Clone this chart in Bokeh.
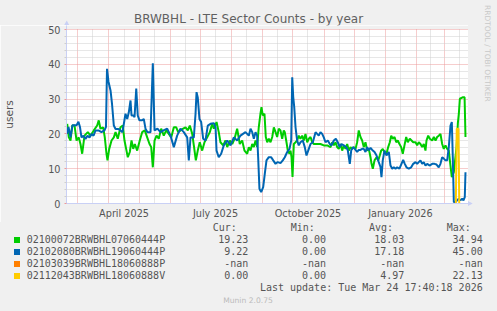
import math
import pandas as pd
from bokeh.plotting import figure
from bokeh.layouts import column, row
from bokeh.models import (Range1d, FixedTicker, DatetimeTickFormatter, BoxAnnotation, Div)
from bokeh.embed import file_html
from bokeh.resources import INLINE

# ---------------- data ----------------
START = pd.Timestamp("2025-02-17 17:40:18")
END = pd.Timestamp("2026-03-24 17:40:18")

# day offsets from START and user counts
green_day = [0.7, 2.3, 4.0, 5.7, 8.0, 10.0, 12.2, 13.9, 15.6, 17.9,
             21.2, 23.9, 27.2, 30.5, 32.1, 33.8, 36.5, 38.1, 39.8, 40.8,
             42.5, 44.8, 47.1, 48.8, 51.0, 53.7, 56.0, 57.7, 59.7, 61.0,
             63.0, 64.7, 66.4, 68.0, 70.3, 72.9, 75.3, 77.9, 80.3, 82.6,
             84.3, 85.9, 87.6, 89.6, 91.8, 94.2, 96.8, 99.2, 101.8, 104.2,
             106.8, 109.2, 111.1, 113.4, 116.1, 118.4, 120.7, 122.7, 125.1, 126.7,
             128.7, 130.6, 132.6, 135.0, 137.3, 140.0, 142.6, 145.0, 146.6, 149.3,
             151.5, 153.2, 155.9, 158.2, 159.9, 162.5, 164.9, 167.2, 169.8, 172.4,
             174.8, 177.1, 179.8, 181.4, 183.1, 184.8, 186.4, 188.1, 189.7, 191.3,
             193.0, 194.0, 195.3, 197.0, 198.3, 199.7, 201.3, 203.0, 204.7, 206.3,
             208.0, 209.6, 211.2, 212.9, 214.6, 216.2, 217.2, 218.9, 220.2, 221.9,
             222.9, 223.9, 224.9, 226.2, 227.9, 229.5, 231.1, 232.8, 234.5, 236.1,
             237.8, 239.5, 241.1, 242.8, 244.5, 246.1, 249.4, 252.7, 256.0, 259.4,
             262.7, 264.4, 266.0, 267.7, 269.3, 270.9, 272.6, 274.3, 275.9, 277.6,
             279.3, 280.9, 282.6, 284.3, 285.9, 287.6, 289.2, 290.8, 292.5, 294.2,
             295.8, 297.5, 299.2, 300.8, 302.5, 303.5, 304.8, 306.5, 308.5, 310.2,
             311.7, 313.1, 314.7, 316.4, 318.4, 320.1, 321.7, 323.1, 324.7, 326.4,
             328.1, 329.6, 331.3, 333.0, 334.6, 336.3, 338.0, 339.6, 341.6, 343.3,
             345.0, 347.3, 348.9, 350.5, 352.2, 353.9, 355.5, 357.2, 358.2, 359.9,
             361.5, 363.9, 365.5, 367.2, 368.8, 370.4, 372.1, 373.8, 375.4, 377.1,
             378.8, 380.4, 381.8, 383.4, 385.4, 388.1, 389.4, 390.4, 391.4, 394.1,
             396.1, 397.0]
green_users = [22.9, 19, 18.1, 22.4, 22.4, 18.1, 19, 17.1, 14.3, 19.5,
               20.5, 19.5, 21, 22.4, 23.9, 21.5, 21.9, 19, 14.3, 12.4,
               15.7, 18.1, 19, 20.5, 18.6, 21.9, 22.4, 18.1, 15.2, 13.3,
               14.8, 18.1, 15.7, 17.1, 15.2, 18.1, 20.5, 21, 19, 17.1,
               16.2, 10.4, 18.1, 19.5, 18.6, 21.5, 19.5, 21, 20, 19,
               21.9, 21.9, 20.5, 21, 21.5, 21.9, 21, 22.4, 20, 16.7,
               12.4, 15.2, 17.6, 15.2, 17.6, 19, 20.5, 22.9, 21.5, 23.4,
               20.5, 17.6, 16.7, 18.1, 16.2, 18.1, 17.1, 18.6, 21.5, 17.1,
               18.1, 15.2, 14.3, 16.2, 15.2, 17.1, 16.2, 18.1, 16.2, 21.9,
               25.8, 27.7, 25.3, 25.8, 19.1, 17.6, 18.6, 17.6, 19.1, 21.9,
               20.5, 19.1, 21.5, 21, 18.6, 21, 20.5, 17.6, 15.2, 14.3,
               15.2, 13.3, 7.6, 17.1, 17.6, 18.1, 19.5, 18.6, 19.5, 18.1,
               20, 17.6, 18.6, 19.1, 17.6, 17.1, 17.1, 17.1, 16.7, 16.7,
               16.2, 17.6, 16.7, 17.6, 16.2, 15.7, 17.1, 15.2, 16.7, 15.7,
               17.1, 15.2, 16.2, 15.7, 16.2, 15.7, 17.6, 21, 19.1, 18.1,
               16.2, 17.6, 15.2, 15.7, 13.3, 11.4, 10.0, 12.4, 13.3, 12.4,
               13.8, 15.2, 15.7, 14.8, 14.3, 16.2, 17.6, 19.5, 18.6, 19.1,
               17.6, 18.1, 17.1, 16.2, 14.3, 16.7, 19.1, 17.6, 18.6, 18.1,
               17.6, 17.6, 16.7, 17.6, 17.1, 16.2, 17.1, 15.2, 18.1, 19.5,
               18.6, 18.1, 19.1, 18.1, 19.1, 19.5, 20, 17.1, 15.7, 16.7,
               15.7, 15.2, 11.5, 7.6, 9, 16.2, 23, 25.8, 30.1, 30.5,
               30.5, 19.1]

blue_day = [0.5, 2.0, 4.0, 6.0, 8.0, 10.0, 11.9, 13.4, 14.9, 16.9,
            18.9, 20.9, 22.9, 24.9, 26.9, 28.9, 31.8, 34.8, 37.8, 39.3,
            40.3, 41.8, 43.8, 45.3, 47.1, 48.8, 51.7, 53.7, 55.7, 58.7,
            60.4, 62.0, 63.7, 64.7, 66.7, 67.7, 69.4, 70.9, 72.6, 75.3,
            76.9, 78.6, 80.6, 83.6, 85.9, 87.6, 90.5, 93.5, 96.5, 100.2,
            103.5, 106.8, 110.1, 113.4, 116.7, 120.1, 121.7, 123.4, 126.7, 128.4,
            129.4, 130.6, 132.3, 134.0, 136.0, 138.3, 140.6, 143.3, 146.6, 148.3,
            149.3, 151.5, 153.9, 156.5, 159.9, 163.2, 166.5, 169.8, 173.1, 178.1,
            181.4, 183.1, 184.8, 186.4, 188.1, 189.7, 190.7, 192.0, 193.7, 195.7,
            197.3, 199.0, 201.3, 203.7, 205.7, 208.0, 210.2, 212.9, 215.2, 217.2,
            219.6, 221.9, 223.6, 224.6, 225.6, 226.6, 227.9, 229.5, 231.1, 232.8,
            235.1, 237.1, 238.8, 241.1, 242.8, 245.1, 247.8, 249.4, 251.0, 252.7,
            254.4, 256.0, 257.7, 260.0, 262.0, 263.7, 266.0, 268.0, 269.9, 271.9,
            273.6, 275.9, 278.3, 279.9, 281.9, 283.3, 285.3, 286.9, 289.2, 290.8,
            292.5, 294.2, 295.8, 297.5, 299.2, 300.8, 302.5, 304.2, 306.5, 308.5,
            310.7, 312.4, 313.4, 314.7, 316.4, 318.4, 320.7, 322.4, 324.1, 325.7,
            327.4, 329.0, 331.3, 333.3, 335.0, 336.6, 338.3, 340.6, 343.0, 345.0,
            347.3, 348.9, 350.5, 352.2, 353.9, 355.5, 357.2, 358.9, 361.2, 363.9,
            366.2, 368.2, 370.4, 372.1, 373.8, 375.4, 377.1, 378.8, 380.4, 382.1,
            383.4, 384.4, 385.4, 387.1, 388.7, 390.3, 392.0, 393.7, 395.0, 396.3,
            397.0]
blue_users = [20, 22, 19, 22.5, 22.5, 22.5, 23.5, 22, 19, 19.5,
              18.5, 19.5, 19, 20, 19.5, 21, 21, 20.5, 21, 22,
              38.7, 35, 32.5, 28.6, 22.4, 21.4, 21.4, 21, 20.5, 25.8,
              24.3, 26.2, 29.6, 25.3, 25.3, 24.8, 33, 25.3, 23.9, 23.9,
              24.3, 21.5, 20.5, 20.5, 40.3, 21, 21.5, 20.5, 21, 21.5,
              19.5, 16.2, 19.5, 21.5, 20.5, 19, 12.4, 19, 19, 25.8,
              32, 30.5, 24.3, 23.4, 18.6, 18.1, 22.4, 22.9, 23.1, 21.9,
              15.2, 13.3, 14.3, 16.7, 18.1, 16.7, 19, 18.1, 19.5, 20.5,
              19.5, 21.5, 20.5, 18.6, 20.5, 19.5, 13.3, 4.2, 3.3, 4.7,
              8.5, 12.4, 13.3, 13.3, 12.4, 11.4, 11.9, 11.6, 12.4, 13.3,
              14.8, 15.7, 18.1, 36.3, 30.6, 27.7, 21.9, 18.1, 16.7, 17.6,
              18.1, 16.2, 13.8, 15.7, 17.1, 17.6, 20.5, 20, 19.5, 20.5,
              20, 19, 17.6, 18.1, 17.1, 16.7, 18.1, 18.6, 17.6, 16.2,
              17.1, 16.7, 16.2, 15.3, 11.4, 15.3, 16.2, 15.7, 14.8, 15.4,
              15.4, 15.7, 15.7, 14.8, 16.2, 15.3, 16.0, 15.4, 14.8, 13.8,
              11.9, 10.5, 7.6, 12.4, 15.2, 13.8, 14.8, 10.9, 10.0, 10.4,
              10.0, 10.4, 10.0, 11.4, 12.5, 11.4, 10.4, 10.0, 10.4, 11.4,
              11.9, 11.4, 11.9, 12.4, 11.4, 11.9, 10.9, 11.4, 10.9, 11.4,
              11.4, 11.2, 10.4, 11.4, 13.3, 12.9, 12.4, 12.4, 16.2, 22.4,
              23.4, 13, 0.4, 0.4, 0.9, 1.4, 0.9, 1.4, 0.9, 1.8,
              9.0]

orange_day = []
orange_users = []

yellow_day = [387.4, 388.3, 390.0, 390.8]
yellow_users = [0.0, 21.5, 21.5, 0.0]

series_names = ["02100072BRWBHL07060444P", "02102080BRWBHL19060444P",
                "02103039BRWBHL18060888P", "02112043BRWBHL18060888V"]
series_colors = ["#00CC00", "#0066B3", "#FF8000", "#FFCC00"]
nan = float("nan")
cur_vals = [19.23, 9.22, nan, 0.00]
min_vals = [0.00, 0.00, nan, 0.00]
avg_vals = [18.03, 17.18, nan, 4.97]
max_vals = [34.94, 45.00, nan, 22.13]
stat_headers = ["Cur:", "Min:", "Avg:", "Max:"]

month_starts = ["2025-03-01", "2025-04-01", "2025-05-01", "2025-06-01", "2025-07-01",
                "2025-08-01", "2025-09-01", "2025-10-01", "2025-11-01", "2025-12-01",
                "2026-01-01", "2026-02-01", "2026-03-01"]
month_mids = ["2025-03-16", "2025-04-16", "2025-05-16", "2025-06-16", "2025-07-16",
              "2025-08-16", "2025-09-16", "2025-10-16", "2025-11-16", "2025-12-16",
              "2026-01-16", "2026-02-15", "2026-03-16"]
label_months = ["2025-04-16", "2025-07-16", "2025-10-16", "2026-01-16"]
y_ticks = [0, 10, 20, 30, 40, 50]
y_minor = [v for v in range(0, 51, 2) if v % 10 != 0]

TITLE = "BRWBHL - LTE Sector Counts - by year"
Y_LABEL = "users"
LAST_UPDATE = "Last update: Tue Mar 24 17:40:18 2026"
MUNIN = "Munin 2.0.75"
RRD = "RRDTOOL / TOBI OETIKER"

# ---------------- style / layout (pixels) ----------------
BG = "#F0F0F0"
AX = "#C9D0F5"
MGRID = "#EC9A9A"
GRID = "#CFCFCF"
FONT = "#555555"
SANS = "DejaVu Sans"
MONO = "DejaVu Sans Mono"

TOP_H = 25            # strip above the chart canvas (title)
MAIN_W = 484          # width of the left column
RRD_W = 497 - MAIN_W  # right strip with the vertical credit
P_W, P_H = 468, 197   # chart canvas
FL, FB = 66, 19       # left / bottom borders of the chart canvas
LEG_H = 311 - TOP_H - P_H
SIDE_W = MAIN_W - P_W
FRAME_H = P_H - FB
PX_PER_UNIT = 174 / 50.0          # 50 users over 174 px
Y_TOP = FRAME_H / PX_PER_UNIT     # range end so that 50 sits 4 px below canvas top


def ms(s):
    return pd.Timestamp(s).value / 1e6


def to_dates(days):
    return START + pd.to_timedelta(days, unit="D")


p = figure(width=P_W, height=P_H, x_axis_type="datetime",
           x_range=Range1d(START, END), y_range=Range1d(0, Y_TOP),
           toolbar_location=None, output_backend="svg",
           min_border_left=FL, min_border_right=0,
           min_border_top=0, min_border_bottom=FB)
p.title.visible = False
p.background_fill_color = "white"
p.border_fill_color = BG
p.outline_line_color = None

xa = p.xaxis[0]
xa.ticker = FixedTicker(ticks=[ms(s) for s in label_months], minor_ticks=[])
fmt = "%B %Y"
xa.formatter = DatetimeTickFormatter(milliseconds=fmt, seconds=fmt, minsec=fmt,
                                     minutes=fmt, hourmin=fmt, hours=fmt,
                                     days=fmt, months=fmt, years=fmt)
xa.major_tick_in = 0
xa.major_tick_out = 0
xa.minor_tick_in = 0
xa.minor_tick_out = 0
xa.major_tick_line_color = None
xa.minor_tick_line_color = None
xa.axis_line_color = AX
xa.major_label_standoff = 4
xa.major_label_text_font = SANS
xa.major_label_text_font_size = "9.7px"
xa.major_label_text_color = FONT

ya = p.yaxis[0]
ya.ticker = FixedTicker(ticks=y_ticks, minor_ticks=y_minor)
ya.major_tick_in = 0
ya.major_tick_out = 2
ya.major_tick_line_color = MGRID
ya.minor_tick_in = 0
ya.minor_tick_out = 2
ya.minor_tick_line_color = GRID
ya.axis_line_color = AX
ya.major_label_standoff = 4
ya.major_label_text_font = SANS
ya.major_label_text_font_size = "9.7px"
ya.major_label_text_color = FONT
ya.axis_label = Y_LABEL
ya.axis_label_text_font = SANS
ya.axis_label_text_font_size = "10.5px"
ya.axis_label_text_font_style = "normal"
ya.axis_label_text_color = FONT
ya.axis_label_standoff = 30

xg = p.xgrid[0]
xg.ticker = FixedTicker(ticks=[ms(s) for s in month_starts],
                        minor_ticks=[ms(s) for s in month_mids])
yg = p.ygrid[0]
yg.ticker = FixedTicker(ticks=y_ticks, minor_ticks=y_minor)
for g in (xg, yg):
    g.grid_line_color = MGRID
    g.grid_line_dash = "1 1"
    g.minor_grid_line_color = GRID
    g.minor_grid_line_dash = "1 1"

# the canvas strip above the 50 line belongs to the page background
p.add_layout(BoxAnnotation(left=ms(START), right=ms(END),
                           bottom=50 + 0.6 / PX_PER_UNIT, top=Y_TOP,
                           fill_color=BG, fill_alpha=1.0, line_color=None,
                           level="underlay"))

for days, vals, col in [(green_day, green_users, series_colors[0]),
                        (blue_day, blue_users, series_colors[1]),
                        (orange_day, orange_users, series_colors[2]),
                        (yellow_day, yellow_users, series_colors[3])]:
    p.line(x=to_dates(days), y=vals, line_color=col, line_width=2)


# ---------------- HTML strips (title, arrows, legend, credit) ----------------
def span(text, top, size, font=SANS, color=FONT, lh=12, left=None, right=None,
         center=None, extra=""):
    st = ("position:absolute;top:%.1fpx;white-space:nowrap;font-family:'%s';"
          "font-size:%spx;line-height:%spx;color:%s;%s" % (top, font, size, lh, color, extra))
    if left is not None:
        st += "left:%.1fpx;" % left
    if right is not None:
        st += "right:%.1fpx;text-align:right;" % right
    if center is not None:
        st += "left:%.1fpx;width:300px;text-align:center;" % (center - 150)
    return '<div style="%s">%s</div>' % (st, text)


def box(w, h, inner):
    return ('<div style="position:relative;width:%dpx;height:%dpx;background:%s;'
            'overflow:visible;margin:0;padding:0;">%s</div>' % (w, h, BG, inner))


# title + arrow head of the y axis
top_html = box(MAIN_W, TOP_H,
               span(TITLE, 11.5, 12, color="#606060", lh=14, center=248.5) +
               '<svg style="position:absolute;left:0;top:0" width="%d" height="%d">'
               '<polygon points="64.2,25 69.2,25 66.7,20.5" fill="%s"/></svg>'
               % (MAIN_W, TOP_H, AX))
top_div = Div(text=top_html, width=MAIN_W, height=TOP_H, margin=0)

# arrow head of the x axis
ay = 203 - TOP_H + 0.5
side_html = box(SIDE_W, P_H,
                '<svg style="position:absolute;left:0;top:0" width="%d" height="%d">'
                '<polygon points="0,%.1f 0,%.1f 4.7,%.1f" fill="%s"/></svg>'
                % (SIDE_W, P_H, ay - 2.5, ay + 2.5, ay, AX))
side_div = Div(text=side_html, width=SIDE_W, height=P_H, margin=0)


def fmtv(v):
    return "-nan" if math.isnan(v) else "%.2f" % v


L0 = TOP_H + P_H                       # page y of the legend strip
row_c = [239.8, 252.0, 264.2, 275.8]   # text centres (page px)
col_right = [248.3, 326.0, 404.3, 482.7]
head_left = [212.7, 290.7, 369.0, 446.7]
MONO_OFF = 5.8                         # line top -> digit centre, 10px mono / 12px line

leg = []
for hx, h in zip(head_left, stat_headers):
    leg.append(span(h, 228 - L0 - MONO_OFF, 10, font=MONO, left=hx))
for i, name in enumerate(series_names):
    cy = row_c[i] - L0
    leg.append('<div style="position:absolute;left:14px;top:%.1fpx;width:6px;height:6px;'
               'background:%s;"></div>' % (cy - 3, series_colors[i]))
    leg.append(span(name, cy - MONO_OFF, 10, font=MONO, left=26.7))
    for cx, vals in zip(col_right, [cur_vals, min_vals, avg_vals, max_vals]):
        leg.append(span(fmtv(vals[i]), cy - MONO_OFF, 10, font=MONO, right=MAIN_W - cx))
leg.append(span(LAST_UPDATE, 288 - L0 - MONO_OFF, 10, font=MONO, right=MAIN_W - 482.7))
leg.append(span(MUNIN, 300.3 - L0 - 4.4, 7.6, color="#BBBBBB", lh=9, center=248))
legend_div = Div(text=box(MAIN_W, LEG_H, "".join(leg)), width=MAIN_W, height=LEG_H, margin=0)

rrd_html = box(RRD_W, 311,
               span(RRD, 5, 7.5, color="#C8C8C8", lh=7, left=0,
                    extra="writing-mode:vertical-rl;"))
rrd_div = Div(text=rrd_html, width=RRD_W, height=311, margin=0)

layout = row(column(top_div, row(p, side_div, spacing=0), legend_div, spacing=0),
             rrd_div, spacing=0)
open("out.html", "w").write(file_html(layout, INLINE))
